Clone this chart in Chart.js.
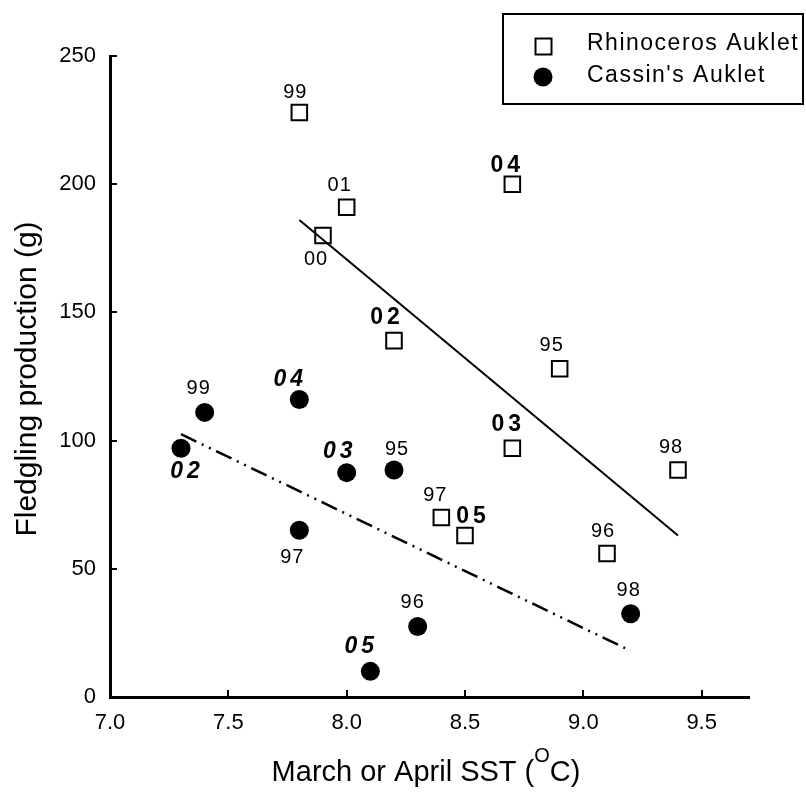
<!DOCTYPE html>
<html>
<head>
<meta charset="utf-8">
<script src="https://cdn.jsdelivr.net/npm/chart.js@4"></script>
<style>
  body { margin: 0; background: #fff; }
  canvas { display: block; }
</style>
</head>
<body>
<canvas id="chart" width="806" height="793"></canvas>
<script>
// --- Data ---
const rhinoSST   = [7.8, 8.0, 7.9, 8.7, 8.2, 8.9, 8.7, 8.4, 8.5, 9.1, 9.4];
const rhinoFledg = [228, 191, 180, 200, 139, 128, 97, 70, 63, 56, 88.5];
const rhinoYears = ['99', '01', '00', '04', '02', '95', '03', '97', '05', '96', '98'];

const cassinSST   = [7.4, 7.3, 7.8, 8.0, 8.2, 7.8, 8.1, 8.3, 9.2];
const cassinFledg = [111, 97, 116, 87.5, 88.5, 65, 10, 27.5, 32.5];
const cassinYears = ['99', '02', '04', '03', '95', '97', '05', '96', '98'];

// regression lines (end points)
const rhinoTrendX  = [7.8, 9.4];
const rhinoTrendY  = [186, 63];
const cassinTrendX = [7.3, 9.2];
const cassinTrendY = [102.5, 18];

const boldYears = ['02', '03', '04', '05'];
const xTicks = [7.0, 7.5, 8.0, 8.5, 9.0, 9.5];

// label placement relative to the marker (pixels)
const rhinoLabelOffset  = [[-4, -20], [-7, -22], [-7, 24], [-5, -19], [-7, -23], [-8, -23], [-4, -24], [-6, -22], [8, -19], [-4, -22], [-7, -23]];
const cassinLabelOffset = [[-6, -24], [6, 23], [-9, -20], [-7, -21], [3, -21], [-7, 27], [-9, -25], [-5, -24], [-2, -23]];

const FONT = "'Liberation Sans', Arial, sans-serif";

function toPoints(xs, ys) {
    return xs.map((x, i) => ({ x: x, y: ys[i] }));
}

// --- Custom drawing: inward ticks, year labels, titles, legend box ---
const extras = {
    id: 'extras',
    afterDatasetsDraw(chart) {
        const ctx = chart.ctx;
        const xs = chart.scales.x;
        const ys = chart.scales.y;
        const area = chart.chartArea;

        ctx.save();
        ctx.strokeStyle = '#000';
        ctx.lineWidth = 2;
        ys.ticks.forEach(t => {
            if (t.value === 0) return;
            const y = Math.round(ys.getPixelForValue(t.value));
            ctx.beginPath();
            ctx.moveTo(area.left, y);
            ctx.lineTo(area.left + 7, y);
            ctx.stroke();
        });
        xs.ticks.forEach(t => {
            if (t.value === 7) return;
            const x = Math.round(xs.getPixelForValue(t.value));
            ctx.beginPath();
            ctx.moveTo(x, area.bottom);
            ctx.lineTo(x, area.bottom - 7);
            ctx.stroke();
        });

        // year labels
        ctx.fillStyle = '#000';
        ctx.textAlign = 'center';
        ctx.textBaseline = 'middle';
        const drawLabels = (dsIndex, years, offsets, italic) => {
            const meta = chart.getDatasetMeta(dsIndex);
            meta.data.forEach((el, i) => {
                const yr = years[i];
                if (boldYears.includes(yr)) {
                    ctx.font = (italic ? 'italic ' : '') + 'bold 23px ' + FONT;
                    ctx.letterSpacing = '4px';
                } else {
                    ctx.font = '20px ' + FONT;
                    ctx.letterSpacing = '1px';
                }
                ctx.fillText(yr, el.x + offsets[i][0], el.y + offsets[i][1]);
            });
        };
        drawLabels(0, rhinoYears, rhinoLabelOffset, false);
        drawLabels(1, cassinYears, cassinLabelOffset, true);
        ctx.letterSpacing = '0px';

        // y axis title
        ctx.save();
        ctx.translate(36, 379);
        ctx.rotate(-Math.PI / 2);
        ctx.font = '30px ' + FONT;
        ctx.textBaseline = 'alphabetic';
        ctx.fillText('Fledgling production (g)', 0, 0);
        ctx.restore();

        // x axis title with superscript
        ctx.textAlign = 'left';
        ctx.textBaseline = 'alphabetic';
        const part1 = 'March or April SST (';
        const part2 = 'O';
        const part3 = 'C)';
        ctx.font = '29px ' + FONT;
        const w1 = ctx.measureText(part1).width;
        const w3 = ctx.measureText(part3).width;
        ctx.font = '20px ' + FONT;
        const w2 = ctx.measureText(part2).width;
        let tx = 426 - (w1 + w2 + w3) / 2;
        ctx.font = '29px ' + FONT;
        ctx.fillText(part1, tx, 781);
        tx += w1;
        ctx.font = '20px ' + FONT;
        ctx.fillText(part2, tx, 762);
        tx += w2;
        ctx.font = '29px ' + FONT;
        ctx.fillText(part3, tx, 781);

        // legend
        ctx.lineWidth = 2;
        ctx.strokeRect(503, 14, 300, 90);
        ctx.fillStyle = '#fff';
        ctx.fillRect(535.5, 38.5, 16, 16);
        ctx.strokeRect(535.5, 38.5, 16, 16);
        ctx.fillStyle = '#000';
        ctx.beginPath();
        ctx.arc(543, 77, 9.5, 0, Math.PI * 2);
        ctx.fill();
        ctx.font = '23px ' + FONT;
        ctx.letterSpacing = '1.5px';
        ctx.fillText(chart.data.datasets[0].label, 587, 50);
        ctx.fillText(chart.data.datasets[1].label, 587, 82);
        ctx.restore();
    }
};

new Chart(document.getElementById('chart'), {
    type: 'scatter',
    data: {
        datasets: [
            {
                label: 'Rhinoceros Auklet',
                data: toPoints(rhinoSST, rhinoFledg),
                pointStyle: 'rect',
                pointRadius: 11,
                borderColor: '#000',
                borderWidth: 2,
                backgroundColor: 'rgba(255,255,255,0)',
                order: 3
            },
            {
                label: "Cassin's Auklet",
                data: toPoints(cassinSST, cassinFledg),
                pointStyle: 'circle',
                pointRadius: 9.5,
                borderWidth: 0,
                backgroundColor: '#000',
                order: 4
            },
            {
                type: 'line',
                data: toPoints(rhinoTrendX, rhinoTrendY),
                borderColor: '#000',
                borderWidth: 2,
                pointRadius: 0,
                fill: false,
                order: 1
            },
            {
                type: 'line',
                data: toPoints(cassinTrendX, cassinTrendY),
                borderColor: '#000',
                borderWidth: 2.5,
                borderDash: [17, 6, 2, 6, 2, 6],
                pointRadius: 0,
                fill: false,
                order: 2
            }
        ]
    },
    options: {
        responsive: false,
        animation: false,
        devicePixelRatio: 1,
        layout: { padding: { top: 56, right: 57, left: 0, bottom: 0 } },
        plugins: {
            legend: { display: false },
            tooltip: { enabled: false }
        },
        scales: {
            x: {
                type: 'linear',
                min: 7.0,
                max: 9.7,
                afterFit(scale) { scale.height = 96; },
                afterBuildTicks(scale) { scale.ticks = xTicks.map(v => ({ value: v })); },
                grid: { display: false, drawTicks: false },
                border: { display: true, color: '#000', width: 3 },
                ticks: {
                    padding: 13,
                    color: '#000',
                    font: { family: FONT, size: 22 },
                    callback: v => v.toFixed(1)
                }
            },
            y: {
                min: 0,
                max: 250,
                afterFit(scale) { scale.width = 110; },
                grid: { display: false, drawTicks: false },
                border: { display: true, color: '#000', width: 3 },
                ticks: {
                    stepSize: 50,
                    padding: 14,
                    color: '#000',
                    font: { family: FONT, size: 22 }
                }
            }
        }
    },
    plugins: [extras]
});
</script>
</body>
</html>
